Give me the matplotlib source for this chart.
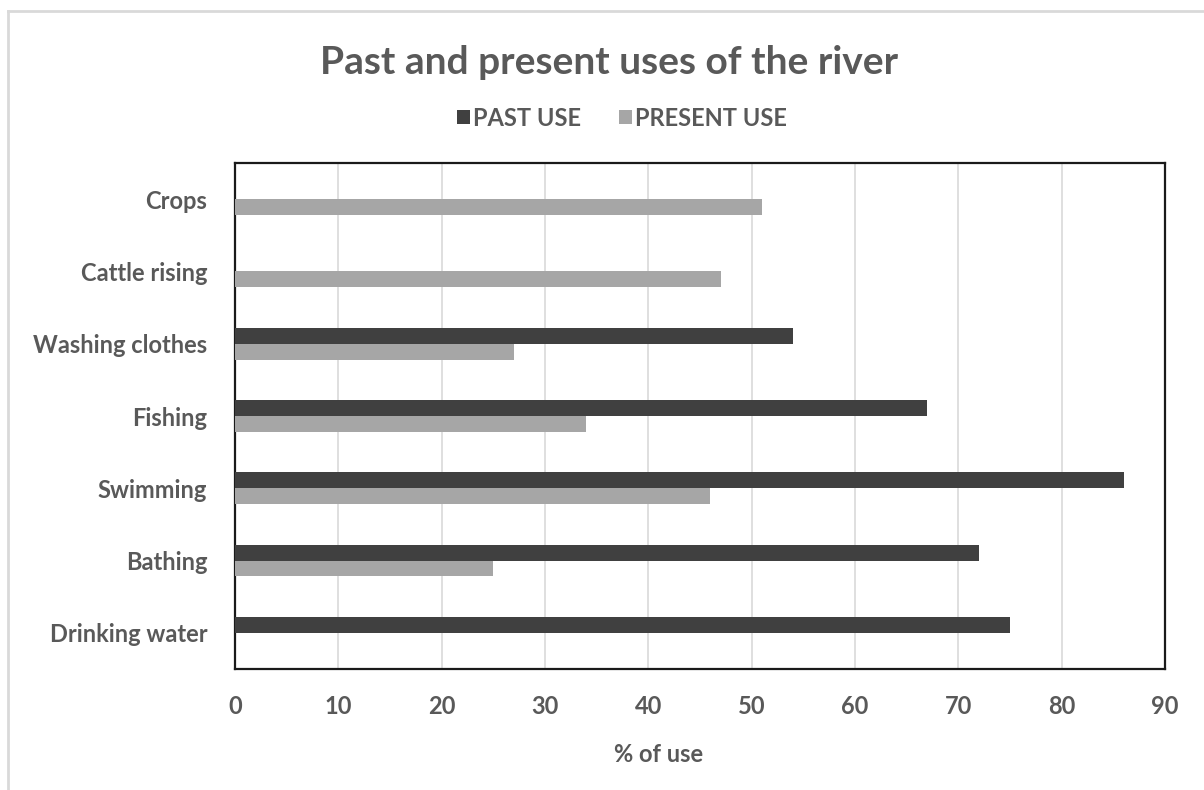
import matplotlib
matplotlib.use("Agg")
import matplotlib.pyplot as plt
import numpy as np
from matplotlib.lines import Line2D

categories = ["Drinking water", "Bathing", "Swimming", "Fishing",
              "Washing clothes", "Cattle rising", "Crops"]
past_use = [75, 72, 86, 67, 54, 0, 0]
present_use = [0, 25, 46, 34, 27, 47, 51]
x_ticks = [0, 10, 20, 30, 40, 50, 60, 70, 80, 90]

TXT = "#595959"
DARK = "#404040"
LIGHT = "#a6a6a6"
plt.rcParams['font.family'] = ['Lato', 'DejaVu Sans']

W, H = 1204, 790
fig = plt.figure(figsize=(W / 100, H / 100), dpi=100)
fig.patch.set_facecolor("white")

# outer screenshot frame (left/top edges)
fig.add_artist(Line2D([8 / W, 8 / W], [0, 1 - 11 / H], color="#d9d9d9", lw=2, transform=fig.transFigure))
fig.add_artist(Line2D([8 / W, 1], [1 - 11 / H, 1 - 11 / H], color="#d9d9d9", lw=2, transform=fig.transFigure))

left, right, top, bottom = 235, 1165, 163, 669
ax = fig.add_axes([left / W, 1 - bottom / H, (right - left) / W, (bottom - top) / H])

y = np.arange(len(categories))
h = 0.22
ax.barh(y + h / 2, past_use, height=h, color=DARK, label="PAST USE", zorder=3)
ax.barh(y - h / 2, present_use, height=h, color=LIGHT, label="PRESENT USE", zorder=3)

ax.set_xlim(0, 90)
ax.set_ylim(-0.5, len(categories) - 0.5)
ax.set_xticks(x_ticks)
ax.set_xticklabels([str(t) for t in x_ticks])
ax.set_yticks(y)
ax.set_yticklabels(categories)
ax.tick_params(axis="both", length=0, labelsize=17, labelcolor=TXT)
ax.tick_params(axis="x", pad=19)
ax.tick_params(axis="y", pad=20)
for lab in ax.get_xticklabels() + ax.get_yticklabels():
    lab.set_fontweight("bold")

ax.grid(axis="x", color="#d9d9d9", lw=1.2, zorder=0)
ax.set_axisbelow(True)
for sp in ax.spines.values():
    sp.set_color("#1a1a1a")
    sp.set_linewidth(1.6)

fig.text(659 / W, 1 - 755 / H, "% of use", ha="center", va="center",
         fontsize=17, fontweight="bold", color=TXT)
fig.text(609 / W, 1 - 62 / H, "Past and present uses of the river", ha="center", va="center",
         fontsize=28, fontweight="bold", color=TXT)

leg = fig.legend(loc="center", bbox_to_anchor=(622 / W, 1 - 118 / H), ncol=2, frameon=False,
                 fontsize=17, handlelength=0.55, handleheight=0.55, handletextpad=0.15,
                 columnspacing=1.6)
for t in leg.get_texts():
    t.set_color(TXT)
    t.set_fontweight("bold")

fig.savefig("out.png", dpi=100, facecolor="white")
